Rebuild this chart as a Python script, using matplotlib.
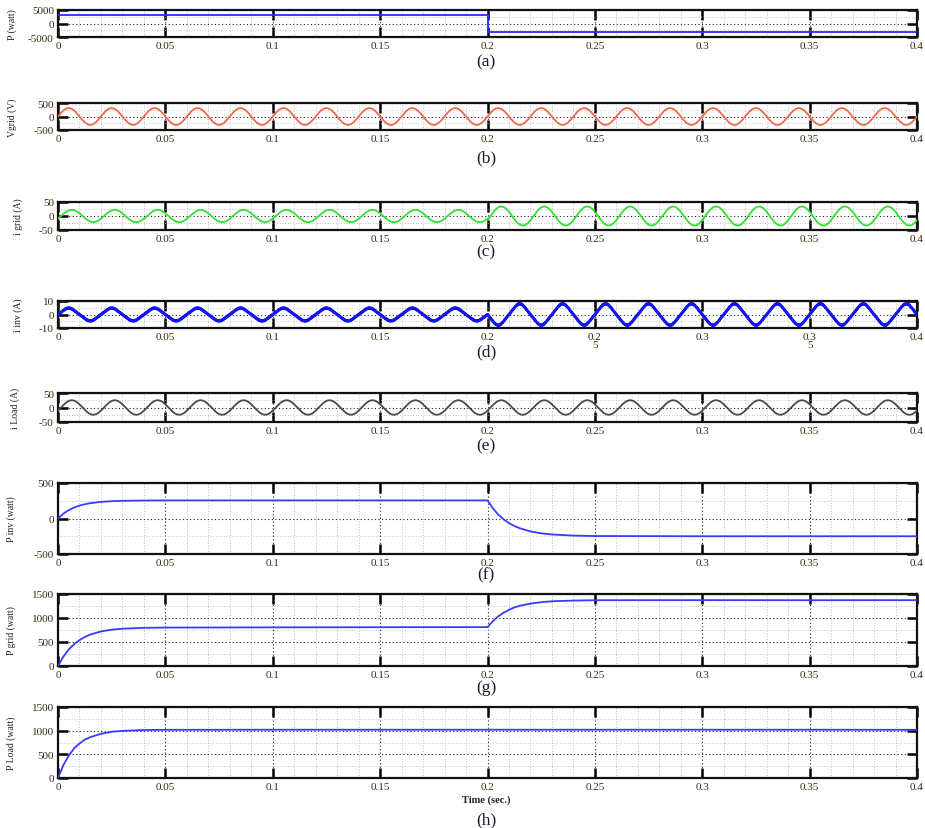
import numpy as np
import matplotlib
matplotlib.use("Agg")
import matplotlib.pyplot as plt
from matplotlib.ticker import MultipleLocator, FixedLocator

# ---------------- data ----------------
t_switch = 0.2
f_grid = 50.0

# (a) reference power step
p_ref_t = [0.0, 0.2, 0.2, 0.4]
p_ref_v = [3000, 3000, -3000, -3000]

# sinusoid parameters: amplitude before / after switch, phase lag (rad)
vgrid_amp = [311, 311]
igrid_amp = [22, 34]
igrid_lag = 0.45
iinv_amp = [4.5, -7.5]          # phase reverses after 0.2 s
iinv_ripple = 0.35
iload_amp = [25, 25]
iload_lag = 0.45

# (f) inverter power, read points
pinv_t = [0, 0.0025, 0.005, 0.0075, 0.01, 0.0125, 0.015, 0.02, 0.025, 0.03, 0.04, 0.05,
          0.1, 0.15, 0.2, 0.2025, 0.205, 0.2075, 0.21, 0.2125, 0.215, 0.22, 0.225,
          0.23, 0.24, 0.25, 0.3, 0.35, 0.4]
pinv_v = [0, 68, 119, 155, 182, 201, 216, 234, 244, 249, 253, 255,
          255, 255, 255, 143, 56, -12, -64, -105, -137, -182, -209,
          -225, -241, -247, -250, -250, -250]

# (g) grid power, read points
pgrid_t = [0, 0.0025, 0.005, 0.0075, 0.01, 0.0125, 0.015, 0.02, 0.025, 0.03, 0.04, 0.05,
           0.1, 0.15, 0.2, 0.2025, 0.205, 0.2075, 0.21, 0.2125, 0.215, 0.22, 0.225,
           0.23, 0.24, 0.25, 0.3, 0.35, 0.4]
pgrid_v = [0, 195, 345, 455, 540, 605, 655, 720, 757, 777, 795, 800,
           805, 808, 810, 935, 1035, 1110, 1170, 1220, 1255, 1300, 1330,
           1348, 1363, 1370, 1372, 1370, 1372]

# (h) load power, read points
pload_t = [0, 0.0025, 0.005, 0.0075, 0.01, 0.0125, 0.015, 0.02, 0.025, 0.03, 0.04, 0.05,
           0.1, 0.15, 0.2, 0.25, 0.3, 0.35, 0.4]
pload_v = [0, 272, 472, 625, 730, 811, 863, 934, 977, 996, 1013, 1018,
           1020, 1020, 1020, 1020, 1020, 1020, 1018]

xticks = [0, 0.05, 0.1, 0.15, 0.2, 0.25, 0.3, 0.35, 0.4]
xticklabels = ["0", "0.05", "0.1", "0.15", "0.2", "0.25", "0.3", "0.35", "0.4"]
xticklabels_d = ["0", "0.05", "0.1", "0.15", "0.2", "0.2\n5", "0.3", "0.3\n5", "0.4"]

captions = ["(a)", "(b)", "(c)", "(d)", "(e)", "(f)", "(g)", "(h)"]
ylabels = ["P (watt)", "Vgrid (V)", "i grid (A)", "i inv (A)", "i Load (A)",
           "P inv (watt)", "P grid (watt)", "P Load (watt)"]

# ---------------- figure ----------------
W, H = 925, 829
fig = plt.figure(figsize=(W / 100, H / 100), dpi=100)
serif = ["Liberation Serif", "DejaVu Serif"]

# panel pixel boxes (top, bottom)
boxes = [(11, 38), (104, 131), (203, 231), (302, 329), (394, 423),
         (484, 555), (595, 667), (708, 779)]
cap_y = [62, 158, 252, 352, 446, 575, 688, 820]
left_px, right_px = 58, 917

t = np.linspace(0, 0.4, 16001)
w = 2 * np.pi * f_grid
after = t >= t_switch


def seg(vals):
    return np.where(after, vals[1], vals[0])


vgrid = seg(vgrid_amp) * np.sin(w * t)
igrid = seg(igrid_amp) * np.sin(w * t - igrid_lag)
iinv = seg(iinv_amp) * (np.sin(w * t) - 0.06 * np.sin(3 * w * t)) \
    + iinv_ripple * np.sin(2 * np.pi * 1500 * t)
iload = seg(iload_amp) * np.sin(w * t - iload_lag)

series = [
    (p_ref_t, p_ref_v, "#2b2bff", 1.3),
    (t, vgrid, "#ee6a4c", 1.3),
    (t, igrid, "#33e033", 1.3),
    (t, iinv, "#1515ee", 2.0),
    (t, iload, "#4a4a4a", 1.3),
    (pinv_t, pinv_v, "#3a3aff", 1.3),
    (pgrid_t, pgrid_v, "#3a3aff", 1.3),
    (pload_t, pload_v, "#3a3aff", 1.3),
]

ylims = [(-5000, 5000), (-500, 500), (-50, 50), (-10, 10), (-50, 50),
         (-500, 500), (0, 1500), (0, 1500)]
ymaj = [[-5000, 0, 5000], [-500, 0, 500], [-50, 0, 50], [-10, 0, 10], [-50, 0, 50],
        [-500, 0, 500], [0, 500, 1000, 1500], [0, 500, 1000, 1500]]
ymin = [[-2500, 2500], [-250, 250], [-25, 25], [-5, 5], [-25, 25],
        [-250, 250], [250, 750, 1250], [250, 750, 1250]]
ylab_x = [17, 17, 23, 23, 20, 16, 16, 16]

for i, (top, bot) in enumerate(boxes):
    ax = fig.add_axes([left_px / W, 1 - bot / H, (right_px - left_px) / W, (bot - top) / H])
    x, y, c, lw = series[i]
    ax.plot(x, y, color=c, lw=lw, zorder=3)
    ax.set_xlim(0, 0.4)
    ax.set_ylim(*ylims[i])
    ax.xaxis.set_major_locator(FixedLocator(xticks))
    ax.xaxis.set_minor_locator(MultipleLocator(0.01))
    ax.set_xticklabels(xticklabels_d if i == 3 else xticklabels)
    ax.yaxis.set_major_locator(FixedLocator(ymaj[i]))
    ax.yaxis.set_minor_locator(FixedLocator(ymin[i]))
    ax.set_yticklabels([str(v) for v in ymaj[i]])
    ax.tick_params(which="major", direction="in", length=7, width=1.8,
                   top=True, right=True, pad=3, labelsize=8, colors="k")
    ax.tick_params(which="minor", length=0)
    for lab in ax.get_xticklabels() + ax.get_yticklabels():
        lab.set_family(serif)
        lab.set_fontweight("normal")
        lab.set_color("#3a2a10")
        if i == 3:
            lab.set_linespacing(0.9)
    ax.grid(which="major", ls=(0, (1, 2.2)), color="#222222", lw=0.8, zorder=1)
    ax.grid(which="minor", ls=(0, (1, 2.2)), color="#b0b0b0", lw=0.6, zorder=1)
    for s in ax.spines.values():
        s.set_linewidth(1.6)
        s.set_color("#111111")
    ax.set_ylabel(ylabels[i], family=serif, fontsize=7, color="#222222")
    ax.yaxis.set_label_coords((ylab_x[i] - left_px) / (right_px - left_px), 0.5)
    fig.text(486 / W, 1 - cap_y[i] / H, captions[i], family=serif, fontsize=12.5,
             ha="center", va="center", color="#1a1a2a")

fig.text(486 / W, 1 - 800 / H, "Time (sec.)", family=serif, fontsize=7.5,
         fontweight="bold", ha="center", va="center", color="#222222")

fig.savefig("out.png", dpi=100)
